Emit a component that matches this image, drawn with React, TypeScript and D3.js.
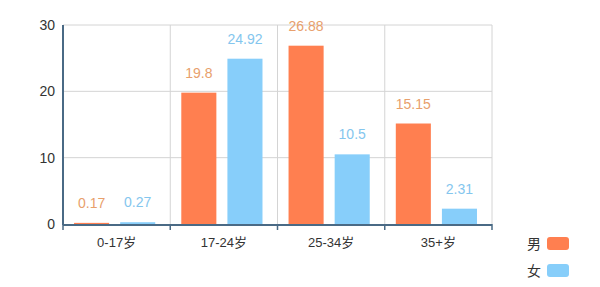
import React from "react";
import * as d3 from "d3";

const categories = ["0-17岁", "17-24岁", "25-34岁", "35+岁"];
const maleValues = [0.17, 19.8, 26.88, 15.15];
const femaleValues = [0.27, 24.92, 10.5, 2.31];
const yTicks = [0, 10, 20, 30];
const seriesNames = ["男", "女"];

const W = 600, H = 287;
const left = 63, right = 492, top = 25, bottom = 224;
const font = "'Liberation Sans', Arial, 'Noto Sans CJK SC', sans-serif";
const maleColor = "#ff7f50";
const femaleColor = "#87cefa";
const maleLabel = "#e8a06c";
const femaleLabel = "#84c6ee";

export default function App() {
  const x = d3.scaleBand<string>().domain(categories).range([left, right]).padding(0);
  const y = d3.scaleLinear().domain([0, 30]).range([bottom, top]);
  const bw = x.bandwidth();
  const barW = bw * 0.327;
  const off1 = bw * 0.103;
  const off2 = bw * 0.533;

  return (
    <svg width={W} height={H} style={{ position: "absolute", left: 0, top: 0, background: "#fff" }} fontFamily={font}>
      {yTicks.filter(t => t > 0).map(t => (
        <line key={"h" + t} x1={left} x2={right} y1={y(t)} y2={y(t)} stroke="#d4d4d4" strokeWidth={1} />
      ))}
      {categories.map(c => (
        <line key={"v" + c} x1={(x(c) as number) + bw} x2={(x(c) as number) + bw} y1={top} y2={bottom} stroke="#d4d4d4" strokeWidth={1} />
      ))}
      {categories.map((c, i) => {
        const bx = x(c) as number;
        return (
          <g key={c}>
            <rect x={bx + off1} y={y(maleValues[i])} width={barW} height={bottom - y(maleValues[i])} fill={maleColor} />
            <rect x={bx + off2} y={y(femaleValues[i])} width={barW} height={bottom - y(femaleValues[i])} fill={femaleColor} />
            <text x={bx + off1 + barW / 2} y={y(maleValues[i]) - 15} textAnchor="middle" fontSize={14} fill={maleLabel}>{maleValues[i]}</text>
            <text x={bx + off2 + barW / 2} y={y(femaleValues[i]) - 15} textAnchor="middle" fontSize={14} fill={femaleLabel}>{femaleValues[i]}</text>
          </g>
        );
      })}
      <line x1={left} x2={left} y1={top} y2={bottom + 1} stroke="#4a6a85" strokeWidth={2} />
      <line x1={left} x2={right} y1={bottom + 1} y2={bottom + 1} stroke="#4a6a85" strokeWidth={2} />
      {[left, ...categories.map(c => (x(c) as number) + bw)].map((tx, i) => (
        <line key={"t" + i} x1={tx} x2={tx} y1={bottom} y2={bottom + 6} stroke="#4a6a85" strokeWidth={1.5} />
      ))}
      {yTicks.map(t => (
        <text key={"y" + t} x={55} y={y(t) + 5} textAnchor="end" fontSize={14} fill="#333">{t}</text>
      ))}
      {categories.map(c => (
        <text key={"x" + c} x={(x(c) as number) + bw / 2} y={247} textAnchor="middle" fontSize={13} fill="#333">{c}</text>
      ))}
      {seriesNames.map((s, i) => (
        <g key={s}>
          <text x={527} y={249 + i * 27} fontSize={14} fill="#333">{s}</text>
          <rect x={547} y={237 + i * 27} width={22} height={13} rx={3} fill={i === 0 ? maleColor : femaleColor} />
        </g>
      ))}
    </svg>
  );
}
